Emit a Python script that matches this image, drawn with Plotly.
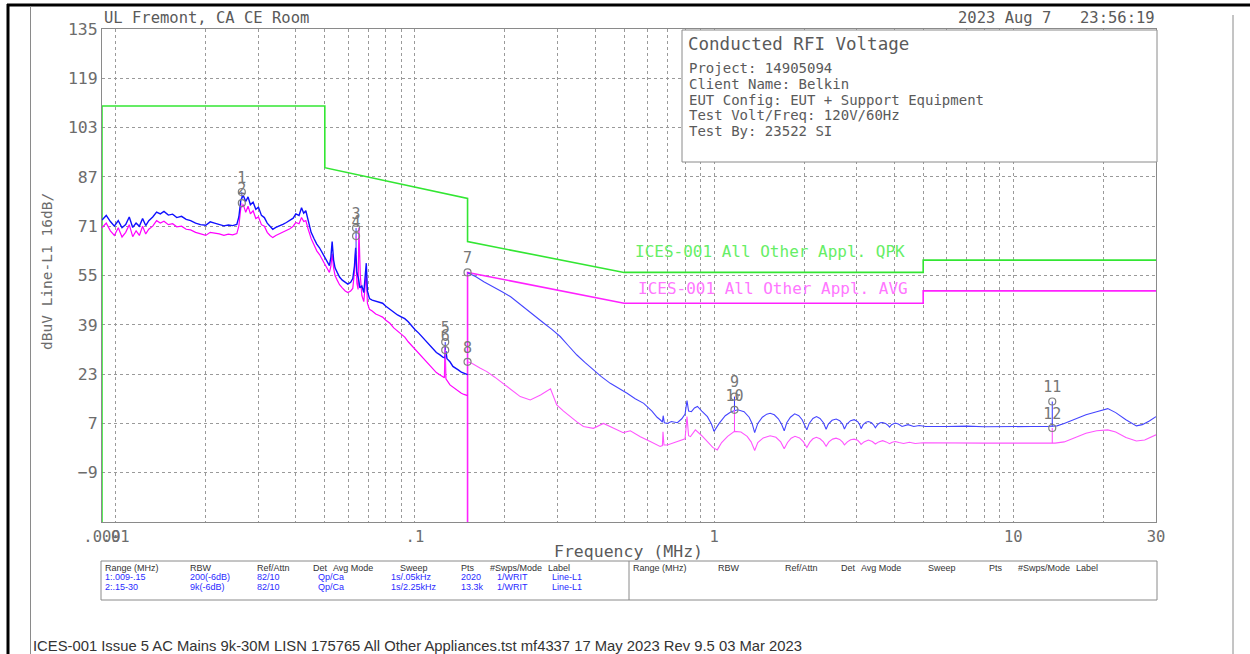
import plotly.graph_objects as go

# ---------------- data ----------------
# Range 1 (0.009-0.15 MHz) peak trace
pk1_f = [0.0090, 0.0093, 0.0096, 0.0099, 0.0102, 0.0105, 0.0108, 0.0111, 0.0114, 0.0117,
         0.0120, 0.0123, 0.0126, 0.0129, 0.0133, 0.0137, 0.0141, 0.0145, 0.0150, 0.0155,
         0.0160, 0.0166, 0.0172, 0.0178, 0.0185, 0.0192, 0.0200, 0.0207, 0.0214, 0.0222,
         0.0230, 0.0238, 0.0246, 0.0254, 0.0258, 0.0262, 0.0267, 0.0272, 0.0277, 0.0282,
         0.0288, 0.0294, 0.0300, 0.0307, 0.0314, 0.0321, 0.0328, 0.0335, 0.0343, 0.0352,
         0.0362, 0.0372, 0.0382, 0.0392, 0.0400, 0.0410, 0.0418, 0.0425, 0.0432, 0.0440,
         0.0450, 0.0460, 0.0470, 0.0480, 0.0490, 0.0500, 0.0510, 0.0518, 0.0524, 0.0529,
         0.0535, 0.0541, 0.0550, 0.0560, 0.0572, 0.0585, 0.0597, 0.0610, 0.0620, 0.0628,
         0.0634, 0.0640, 0.0648, 0.0655, 0.0665, 0.0675, 0.0683, 0.0688, 0.0694, 0.0705,
         0.0720, 0.0740, 0.0760, 0.0780, 0.0800, 0.0825, 0.0850, 0.0875, 0.0900, 0.0925,
         0.0950, 0.0975, 0.1000, 0.1030, 0.1060, 0.1090, 0.1120, 0.1150, 0.1180, 0.1210,
         0.1240, 0.1260, 0.1270, 0.1280, 0.1310, 0.1340, 0.1370, 0.1400, 0.1430, 0.1460,
         0.1500]
pk1_v = [73.0, 74.5, 72.5, 71.0, 72.8, 70.5, 71.5, 74.0, 70.6, 72.0,
         71.0, 73.5, 71.2, 72.8, 74.0, 75.6, 75.0, 75.8, 74.6, 74.9,
         73.8, 74.2, 73.2, 72.8, 72.0, 71.5, 71.3, 72.4, 72.0, 71.6,
         71.1, 71.4, 71.2, 71.6, 74.0, 79.5, 81.0, 79.0, 80.5, 78.0,
         78.8, 76.5, 77.2, 74.5, 73.8, 72.0, 70.8, 70.0, 70.6, 71.0,
         71.6, 72.2, 72.8, 73.6, 75.0, 74.5, 77.0, 75.2, 76.0, 72.5,
         69.0, 67.0, 65.2, 64.0, 62.5, 61.0, 59.8, 58.2, 61.0, 66.0,
         60.0, 57.5, 56.0, 54.5, 53.5, 52.8, 52.2, 52.8, 54.0, 58.0,
         64.0, 56.0, 54.0, 51.0, 51.6, 49.5, 56.0, 59.0, 50.0, 47.5,
         47.0, 46.6, 46.3, 46.0, 45.0, 44.0, 43.0, 42.2, 41.6, 41.0,
         40.0, 38.6, 37.5, 36.3, 35.0, 33.6, 32.4, 31.0, 30.0, 29.3,
         28.5, 28.3, 30.5, 28.0, 27.0, 25.5, 25.0, 24.3, 23.6, 23.2,
         22.8]

# Range 1 average trace
av1_f = [0.0090, 0.0093, 0.0096, 0.0099, 0.0102, 0.0105, 0.0108, 0.0111, 0.0114, 0.0117,
         0.0120, 0.0123, 0.0126, 0.0129, 0.0133, 0.0137, 0.0141, 0.0145, 0.0150, 0.0155,
         0.0160, 0.0166, 0.0172, 0.0178, 0.0185, 0.0192, 0.0200, 0.0207, 0.0214, 0.0222,
         0.0230, 0.0238, 0.0246, 0.0254, 0.0258, 0.0262, 0.0267, 0.0272, 0.0277, 0.0282,
         0.0288, 0.0294, 0.0300, 0.0307, 0.0314, 0.0321, 0.0328, 0.0335, 0.0343, 0.0352,
         0.0362, 0.0372, 0.0382, 0.0392, 0.0400, 0.0410, 0.0418, 0.0425, 0.0432, 0.0440,
         0.0450, 0.0460, 0.0470, 0.0480, 0.0490, 0.0500, 0.0510, 0.0518, 0.0524, 0.0529,
         0.0535, 0.0541, 0.0550, 0.0560, 0.0572, 0.0585, 0.0597, 0.0610, 0.0620, 0.0628,
         0.0634, 0.0640, 0.0646, 0.0650, 0.0657, 0.0665, 0.0675, 0.0683, 0.0688, 0.0694,
         0.0705, 0.0720, 0.0740, 0.0760, 0.0780, 0.0800, 0.0825, 0.0850, 0.0875, 0.0900,
         0.0925, 0.0950, 0.0975, 0.1000, 0.1030, 0.1060, 0.1090, 0.1120, 0.1150, 0.1180,
         0.1210, 0.1240, 0.1255, 0.1262, 0.1270, 0.1310, 0.1340, 0.1370, 0.1400, 0.1430,
         0.1460, 0.1500]
av1_v = [70.5, 72.0, 69.5, 68.0, 70.5, 67.5, 69.0, 71.5, 67.6, 69.5,
         68.0, 71.0, 68.5, 70.0, 71.0, 72.8, 72.0, 72.6, 71.5, 71.8,
         70.8, 71.0, 70.0, 69.8, 69.0, 68.5, 68.0, 69.0, 68.8, 68.5,
         68.0, 68.4, 68.2, 68.6, 71.0, 77.0, 78.0, 75.5, 77.5, 75.0,
         76.0, 73.5, 74.0, 71.5, 71.0, 69.0, 68.0, 67.3, 68.0, 68.5,
         69.0, 69.6, 70.2, 71.0, 72.2, 71.8, 73.8, 72.5, 72.8, 70.0,
         67.0, 65.0, 63.0, 61.8, 60.2, 58.8, 57.5, 56.0, 58.0, 62.0,
         57.5, 55.0, 53.5, 52.0, 51.0, 50.0, 49.5, 50.0, 50.8, 56.0,
         63.0, 52.5, 50.5, 70.5, 55.0, 48.5, 46.5, 52.0, 56.0, 46.0,
         44.0, 43.5, 42.5, 42.0, 41.5, 40.5, 39.5, 38.0, 37.0, 36.0,
         35.0, 33.5, 32.3, 30.8, 29.6, 28.4, 27.0, 25.8, 24.5, 23.5,
         22.8, 22.0, 21.8, 32.0, 21.5, 19.5, 18.8, 18.0, 17.3, 16.8,
         16.4, 16.0]

# Range 2 (0.15-30 MHz) peak trace
pk2_f = [0.150, 0.160, 0.170, 0.183, 0.195, 0.209, 0.222, 0.237, 0.252, 0.270,
         0.287, 0.306, 0.326, 0.348, 0.370, 0.395, 0.420, 0.450, 0.480, 0.512,
         0.545, 0.582, 0.620, 0.645, 0.662, 0.672, 0.676, 0.682, 0.698, 0.720,
         0.754, 0.780, 0.800, 0.812, 0.822, 0.840, 0.860, 0.880, 0.910, 0.950,
         0.980,
         1.000, 1.040, 1.090, 1.140, 1.200, 1.260, 1.310, 1.340,
         1.367, 1.400, 1.450, 1.500, 1.540, 1.590, 1.640, 1.680,
         1.716, 1.750, 1.800, 1.860, 1.920, 1.970, 2.010,
         2.042, 2.080, 2.140, 2.200, 2.260, 2.320,
         2.369, 2.410, 2.480, 2.560, 2.630, 2.690,
         2.727, 2.780, 2.860, 2.940, 3.020, 3.070,
         3.100, 3.150, 3.220, 3.280, 3.360, 3.420,
         3.460, 3.520, 3.590, 3.660, 3.740, 3.810,
         3.860, 3.920, 4.030, 4.130, 4.250, 4.450, 4.650, 4.850, 5.100,
         6.000, 7.000, 8.000, 9.000, 10.00, 11.50, 13.00,
         14.00, 14.80, 16.00, 17.50, 19.00, 20.70, 22.00, 23.80, 25.80, 27.00,
         28.50, 30.00]
pk2_v = [55.9, 54.6, 53.0, 51.4, 49.8, 48.1, 46.0, 43.8, 41.8, 39.5,
         37.5, 35.2, 32.2, 29.2, 26.8, 24.4, 22.2, 20.0, 18.5, 16.8,
         15.0, 13.5, 11.0, 9.0, 8.1, 7.4, 9.5, 7.2, 7.0, 7.6,
         7.2, 8.5, 10.0, 14.4, 11.0, 10.8, 12.0, 12.5, 11.0, 9.2,
         6.8,
         4.4, 7.0, 9.5, 10.8, 11.4, 10.8, 9.0, 7.0,
         4.0, 7.0, 9.0, 10.0, 10.3, 9.8, 8.5, 6.8,
         4.6, 7.2, 9.0, 10.1, 9.5, 8.2, 6.5,
         4.9, 7.0, 8.6, 9.2, 8.6, 7.2,
         5.1, 6.8, 8.0, 8.4, 7.9, 6.7,
         5.2, 6.8, 7.9, 8.2, 7.6, 6.5,
         5.3, 6.6, 7.4, 7.6, 7.2, 6.4,
         5.6, 6.6, 7.2, 7.3, 7.0, 6.4,
         5.8, 6.6, 7.1, 6.8, 6.0, 6.6, 6.0, 6.3, 6.0,
         6.0, 6.1, 5.9, 6.0, 6.0, 6.0, 6.0,
         6.2, 7.0, 8.4, 9.8, 10.8, 11.8, 10.5, 8.2, 6.2, 6.6,
         7.8, 9.2]

# Range 2 average trace
av2_f = [0.150, 0.155, 0.165, 0.174, 0.185, 0.197, 0.210, 0.225, 0.243, 0.263,
         0.284, 0.298, 0.314, 0.330, 0.348, 0.366, 0.395, 0.427, 0.460, 0.497,
         0.525, 0.567, 0.612, 0.660, 0.672, 0.675, 0.680, 0.698, 0.754, 0.800,
         0.812, 0.822, 0.834, 0.866, 0.910, 0.950, 0.990,
         1.025, 1.060, 1.110, 1.170, 1.230, 1.290, 1.330,
         1.367, 1.400, 1.460, 1.540, 1.610, 1.670,
         1.716, 1.760, 1.810, 1.864, 1.930, 1.990,
         2.042, 2.090, 2.140, 2.197, 2.260, 2.320,
         2.369, 2.420, 2.490, 2.557, 2.630, 2.690,
         2.727, 2.790, 2.860, 2.940, 3.020, 3.070,
         3.100, 3.170, 3.280, 3.380,
         3.460, 3.550, 3.660, 3.760,
         3.860, 3.940, 4.030, 4.150, 4.300, 4.500, 4.700, 5.000, 6.000,
         8.000, 10.00, 12.00, 13.80, 14.80, 16.00, 17.50, 19.00, 20.70, 22.00,
         23.80, 25.80, 27.50, 30.00]
av2_v = [27.0, 26.5, 25.0, 23.8, 22.0, 20.0, 17.8, 15.7, 14.6, 16.2,
         18.2, 13.0, 11.0, 9.2, 7.5, 6.0, 5.4, 7.0, 5.4, 4.0,
         4.6, 2.7, 1.1, -0.5, -0.2, 4.3, 0.0, 0.0, 1.1, 2.0,
         9.2, 3.0, 2.7, 4.9, 3.0, 1.1, -0.8,
         -1.6, 0.8, 2.8, 4.4, 4.2, 2.8, 1.0,
         -1.8, 0.8, 2.3, 3.0, 2.5, 1.0,
         -1.2, 0.8, 2.2, 2.8, 2.3, 1.0,
         -0.8, 0.9, 2.0, 2.5, 2.0, 1.0,
         -0.4, 1.0, 1.9, 2.2, 1.8, 0.9,
         0.0, 1.0, 1.7, 1.9, 1.5, 0.8,
         0.2, 1.0, 1.6, 1.1,
         0.3, 1.0, 1.4, 1.0,
         0.4, 0.9, 1.1, 0.8, 0.5, 0.9, 0.5, 0.7, 0.6,
         0.6, 0.6, 0.6, 0.6, 1.0, 2.2, 3.8, 4.6, 4.9, 4.2,
         2.4, 1.3, 1.6, 3.3]

# Limit lines
qpk_lim_f = [0.009, 0.009, 0.05, 0.05, 0.15, 0.15, 0.5, 5.0, 5.0, 30.0]
qpk_lim_v = [-25, 110, 110, 90, 80, 66, 56, 56, 60, 60]
avg_lim_f = [0.15, 0.15, 0.5, 5.0, 5.0, 30.0]
avg_lim_v = [-25, 56, 46, 46, 50, 50]

# Markers (final measurements) and trace level beneath them
mk_lbl = ["1", "2", "3", "4", "5", "6", "7", "8", "9", "10", "11", "12"]
mk_f = [0.0264, 0.0264, 0.0636, 0.0636, 0.1263, 0.1263, 0.15, 0.15, 1.17, 1.17, 13.5, 13.5]
mk_v = [82.1, 78.5, 70.4, 67.8, 33.4, 30.8, 56.0, 27.0, 15.7, 11.4, 14.1, 5.5]
mk_base = [80.0, 77.0, 62.0, 66.0, 29.0, 21.8, 55.9, 27.0, 11.2, 4.4, 6.0, 0.6]

# Axis ticks
y_tick_vals = [-9, 7, 23, 39, 55, 71, 87, 103, 119, 135]
x_tick_vals = [0.009, 0.01, 0.02, 0.03, 0.04, 0.05, 0.06, 0.07, 0.08, 0.09,
               0.1, 0.2, 0.3, 0.4, 0.5, 0.6, 0.7, 0.8, 0.9,
               1, 2, 3, 4, 5, 6, 7, 8, 9, 10, 20, 30]
x_tick_text = [".009", ".01", "", "", "", "", "", "", "", "",
               ".1", "", "", "", "", "", "", "", "",
               "1", "", "", "", "", "", "", "", "", "10", "", "30"]

# Info / table text
info_lines = ["Project: 14905094", "Client Name: Belkin", "EUT Config: EUT + Support Equipment",
              "Test Volt/Freq: 120V/60Hz", "Test By: 23522 SI"]
tbl_head = ["Range (MHz)", "RBW", "Ref/Attn", "Det", "Avg Mode", "Sweep", "Pts", "#Swps/Mode", "Label"]
tbl_row1 = ["1:.009-.15", "200(-6dB)", "82/10", "Qp/Ca", "", "1s/.05kHz", "2020", "1/WRIT", "Line-L1"]
tbl_row2 = ["2:.15-30", "9k(-6dB)", "82/10", "Qp/Ca", "", "1s/2.25kHz", "13.3k", "1/WRIT", "Line-L1"]

# ---------------- layout helpers ----------------
W, H = 1250, 654
L, R, T, B = 102, 1156, 29, 522


def px(x):
    return (x - L) / (R - L)


def py(y):
    return (B - y) / (B - T)


MONO = "DejaVu Sans Mono"
NARROW = "Liberation Sans"
GRAY = "#6c6c6c"

fig = go.Figure()

fig.add_trace(go.Scatter(x=qpk_lim_f, y=qpk_lim_v, mode="lines",
                         line=dict(color="#33e633", width=1.6), hoverinfo="skip"))
fig.add_trace(go.Scatter(x=avg_lim_f, y=avg_lim_v, mode="lines",
                         line=dict(color="#ff22ff", width=1.6), hoverinfo="skip"))

fig.add_trace(go.Scatter(x=av1_f, y=av1_v, mode="lines", line=dict(color="#ff00ff", width=1.2)))
fig.add_trace(go.Scatter(x=pk1_f, y=pk1_v, mode="lines", line=dict(color="#1010ff", width=1.4)))
fig.add_trace(go.Scatter(x=av2_f, y=av2_v, mode="lines", line=dict(color="#ff55ff", width=1.1)))
fig.add_trace(go.Scatter(x=pk2_f, y=pk2_v, mode="lines", line=dict(color="#4545ff", width=1.1)))

# marker drop lines
qx, qy, ax_, ay_ = [], [], [], []
for i, (f, v, b) in enumerate(zip(mk_f, mk_v, mk_base)):
    if i % 2 == 0:
        qx += [f, f, None]
        qy += [v, b, None]
    else:
        ax_ += [f, f, None]
        ay_ += [v, b, None]
fig.add_trace(go.Scatter(x=qx, y=qy, mode="lines", line=dict(color="#3030ff", width=1)))
fig.add_trace(go.Scatter(x=ax_, y=ay_, mode="lines", line=dict(color="#ff44ff", width=1)))

fig.add_trace(go.Scatter(x=mk_f, y=mk_v, mode="markers+text", text=mk_lbl,
                         textposition="top center",
                         textfont=dict(family=MONO, size=15, color="#777777"),
                         marker=dict(symbol="circle-open", size=7,
                                     color="#808080", line=dict(width=1.2, color="#808080"))))

shapes = []
# outer frame
shapes.append(dict(type="line", xref="paper", yref="paper", x0=px(7), x1=px(1250),
                   y0=py(5), y1=py(5), line=dict(color="black", width=3)))
shapes.append(dict(type="line", xref="paper", yref="paper", x0=px(8), x1=px(8),
                   y0=py(4), y1=py(654), line=dict(color="black", width=3)))
shapes.append(dict(type="line", xref="paper", yref="paper", x0=px(30.5), x1=px(30.5),
                   y0=py(6), y1=py(654), line=dict(color="#8a8a8a", width=1)))
shapes.append(dict(type="line", xref="paper", yref="paper", x0=px(1233), x1=px(1233),
                   y0=py(15), y1=py(654), line=dict(color="#8a8a8a", width=1)))
# info box
shapes.append(dict(type="rect", xref="paper", yref="paper", x0=px(682), x1=px(1157),
                   y0=py(30), y1=py(162), line=dict(color="#8a8a8a", width=1),
                   fillcolor="white", layer="above"))
# table
shapes.append(dict(type="rect", xref="paper", yref="paper", x0=px(101), x1=px(1157),
                   y0=py(561), y1=py(600), line=dict(color="#8a8a8a", width=1)))
shapes.append(dict(type="line", xref="paper", yref="paper", x0=px(629), x1=px(629),
                   y0=py(561), y1=py(600), line=dict(color="#8a8a8a", width=1)))

ann = []


def text(x, y, s, size, color=GRAY, family=MONO, xanchor="left", angle=0):
    ann.append(dict(x=px(x), y=py(y), xref="paper", yref="paper", text=s, showarrow=False,
                    xanchor=xanchor, yanchor="middle", textangle=angle,
                    font=dict(family=family, size=size, color=color)))


text(102, 18, "UL Fremont, CA CE Room", 15.5, "#5a5a5a")
text(1053, 18, "2023 Aug 7", 15.5, "#5a5a5a", xanchor="right")
text(1157, 18, "23:56:19", 15.5, "#5a5a5a", xanchor="right")
text(686, 44, "Conducted RFI Voltage", 17.5, "#5a5a5a")
for i, s in enumerate(info_lines):
    text(687, 68.5 + i * 15.6, s, 14, "#5a5a5a")
text(47, 272, "dBuV Line-L1 16dB/", 14.5, "#6c6c6c", xanchor="center", angle=-90)
text(628, 551, "Frequency (MHz)", 16.5, "#5a5a5a", xanchor="center")
text(633, 251.5, "ICES-001 All Other Appl. QPK", 16, "#66ee66")
text(636, 288.5, "ICES-001 All Other Appl. AVG", 16, "#ff77ff")

col_x = [103, 188, 255, 311, 331, 398, 459, 488, 546]
row_x = [103, 188, 255, 316, 331, 389, 459, 495, 550]
for off in (0, 528):
    for cx, s in zip(col_x, tbl_head):
        text(cx + off, 568, s, 9, "#333333", NARROW)
for cx, s in zip(row_x, tbl_row1):
    if s:
        text(cx, 577, s, 9, "#2a2aff", NARROW)
for cx, s in zip(row_x, tbl_row2):
    if s:
        text(cx, 586.5, s, 9, "#2a2aff", NARROW)

text(31, 646, "ICES-001 Issue 5 AC Mains 9k-30M LISN 175765 All Other Appliances.tst mf4337 17 May 2023 Rev 9.5 03 Mar 2023",
     14.8, "#333333", NARROW)

fig.update_layout(
    width=W, height=H, autosize=False,
    margin=dict(l=L, r=W - R, t=T, b=H - B, pad=0),
    paper_bgcolor="white", plot_bgcolor="white",
    showlegend=False,
    shapes=shapes, annotations=ann,
    xaxis=dict(type="log", range=[-2.045757, 1.477121],
               tickmode="array", tickvals=x_tick_vals, ticktext=x_tick_text,
               tickangle=0, ticks="",
               tickfont=dict(family=MONO, size=15.5, color=GRAY),
               showgrid=True, gridcolor="#9a9a9a", gridwidth=1, griddash="dot",
               showline=True, linecolor="#8a8a8a", linewidth=1, mirror=True,
               zeroline=False),
    yaxis=dict(range=[-25, 135], tickmode="array", tickvals=y_tick_vals,
               ticks="", tickfont=dict(family=MONO, size=16.5, color=GRAY),
               showgrid=True, gridcolor="#9a9a9a", gridwidth=1, griddash="dot",
               showline=True, linecolor="#8a8a8a", linewidth=1, mirror=True,
               zeroline=False),
)

fig.write_html("out.html")
